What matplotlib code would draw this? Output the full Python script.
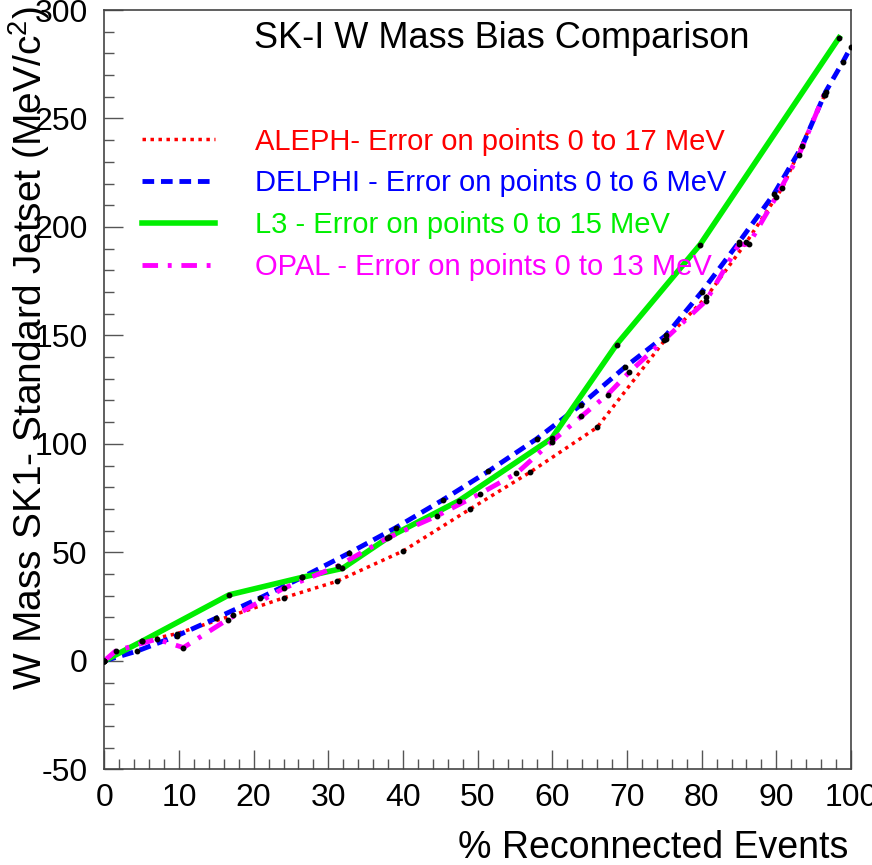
import matplotlib
matplotlib.use("Agg")
import matplotlib.pyplot as plt
from matplotlib.ticker import MultipleLocator

plt.rcParams['font.family'] = ['Liberation Sans', 'DejaVu Sans']
plt.rcParams['mathtext.fontset'] = 'custom'
plt.rcParams['mathtext.rm'] = 'Liberation Sans'
plt.rcParams['mathtext.it'] = 'Liberation Sans'
plt.rcParams['axes.unicode_minus'] = False

# Data
aleph_x = [0, 5, 9.7, 17.2, 24, 31.1, 40, 49, 57, 66, 75.2, 80.6, 86, 90.8, 96.5]
aleph_y = [0, 9, 12.5, 21, 29, 36.6, 50.6, 70, 86.9, 107.6, 148.4, 167.6, 193, 218, 261]

delphi_x = [0, 4.4, 9.7, 15, 20.8, 26.5, 32.8, 39, 45.3, 51.4, 57.9, 63.8, 69.7, 75.2, 80, 85, 89.7, 93.5, 96.6, 98.9, 100]
delphi_y = [0, 4.5, 11.5, 19.7, 28.9, 38.5, 49.7, 61.3, 74.1, 87.3, 102.3, 117.9, 135.3, 150, 170, 193, 215.3, 237.5, 262.3, 276, 283]

l3_x = [0, 5.1, 16.7, 26.5, 31.9, 38.1, 47.5, 59.9, 68.6, 79.8, 98.4]
l3_y = [0, 9.1, 30.4, 38.5, 42.6, 57, 73.8, 102.5, 145.8, 191.9, 287.2]

opal_x = [0, 1.5, 7, 10.6, 16.5, 24, 31.3, 37.9, 44.5, 50.3, 55.2, 59.9, 63.9, 67.4, 70.3, 75, 80.6, 85, 86.3, 90, 93, 96.4]
opal_y = [0, 4.5, 10, 6.1, 19, 33.4, 43.7, 56.6, 66.7, 77, 86.4, 101, 112.7, 122.7, 133, 148, 166, 192, 192, 214, 233, 261]

labels = ["ALEPH- Error on points 0 to 17 MeV",
          "DELPHI - Error on points 0 to 6 MeV",
          "L3 - Error on points 0 to 15 MeV",
          "OPAL - Error on points 0 to 13 MeV"]

fig = plt.figure(figsize=(8.72, 8.65), dpi=100)
ax = fig.add_axes([104.3/872, 1-769.3/865, (851-104.3)/872, (769.3-10)/865])

l1, = ax.plot(aleph_x, aleph_y, color='#ff0000', lw=2.5, dashes=(1, 1.3), label=labels[0])
l2, = ax.plot(delphi_x, delphi_y, color='#0000ff', lw=3.5, dashes=(2.4, 1.4), label=labels[1])
l3, = ax.plot(l3_x, l3_y, color='#00ee00', lw=4, label=labels[2])
l4, = ax.plot(opal_x, opal_y, color='#ff00ff', lw=3.5, dashes=(3.2, 2.0, 0.8, 2.0), label=labels[3])

for xs, ys in [(aleph_x, aleph_y), (delphi_x, delphi_y), (l3_x, l3_y), (opal_x, opal_y)]:
    ax.plot(xs, ys, ls='none', marker='o', ms=3.2, color='black', zorder=5)

ax.set_xlim(0, 100)
ax.set_ylim(-50, 300)
ax.xaxis.set_major_locator(MultipleLocator(10))
ax.xaxis.set_minor_locator(MultipleLocator(2))
ax.yaxis.set_major_locator(MultipleLocator(50))
ax.yaxis.set_minor_locator(MultipleLocator(10))
ax.tick_params(which='both', direction='in', top=False, right=False, labelsize=23, color='#555555')
ax.tick_params(which='major', length=14, width=1)
ax.tick_params(which='minor', length=7, width=1)
ax.tick_params(axis='y', pad=12)
ax.tick_params(axis='x', pad=10)
for s in ax.spines.values():
    s.set_color('#444444')
    s.set_linewidth(1.2)

ax.text(0.532, 0.962, "SK-I W Mass Bias Comparison", transform=ax.transAxes,
        ha='center', va='center', fontsize=26)

leg = ax.legend(handles=[l1, l2, l3, l4], loc='upper left', bbox_to_anchor=(0.05, 0.845),
                frameon=False, fontsize=21, handlelength=2.53, handletextpad=1.34,
                labelspacing=0.47, borderpad=0, borderaxespad=0)
for t, c in zip(leg.get_texts(), ['#ff0000', '#0000ff', '#00ee00', '#ff00ff']):
    t.set_color(c)

fig.text(848/872, 1-848/865, "% Reconnected Events", ha='right', va='center', fontsize=27)
fig.text(29/872, 1-6/865, r"W Mass SK1- Standard Jetset (MeV/c$^{2}$)", rotation=90,
         ha='center', va='top', fontsize=28)

fig.savefig("out.png", dpi=100)
